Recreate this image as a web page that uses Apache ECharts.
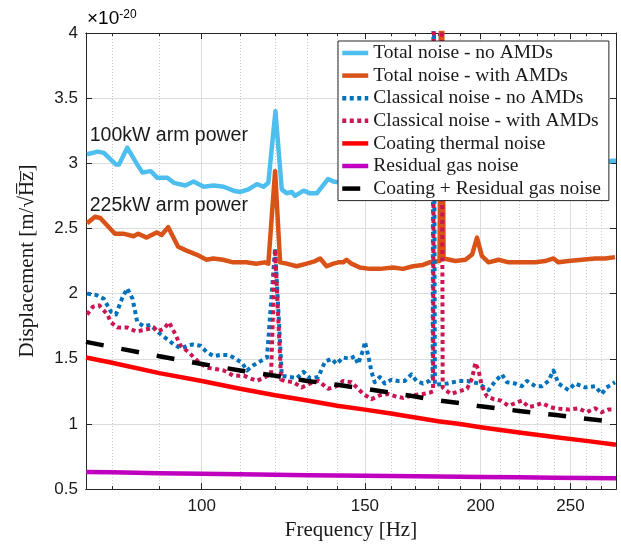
<!DOCTYPE html>
<html style="height: 100%">

<head>
    <meta charset="utf-8">
</head>

<body style="height: 100%; margin: 0">
    <div id="container" style="width: 621px; height: 546px"></div>
    <script type="text/javascript" src="https://cdn.jsdelivr.net/npm/echarts@6.0.0/dist/echarts.min.js"></script>
    <script type="text/javascript">
        // frequencies in Hz, values in units of 1e-20 m/sqrt(Hz)
        var xRange = [75, 280];
        var yRange = [0.5, 4];
        var xMajor = [100, 150, 200, 250];
        var xMinor = [80, 90, 110, 120, 130, 140, 160, 170, 180, 190, 210, 220, 230, 240, 260, 270];

        var fTotNo = [75.2, 77.2, 78.4, 80.8, 81.4, 83.1, 85.2, 86.3, 88.1, 89.5, 91.8, 93.3, 96.0, 98.0, 100.5, 103.0, 105.6, 108.2, 110.1, 112.3, 114.7, 116.6, 118.0, 120.1, 122.0, 123.5, 125.1, 126.1, 128.8, 130.9, 133.1, 134.8, 136.9, 138.7, 145, 155, 165, 175, 185, 195, 205, 215, 230, 245, 260, 270, 277.2, 280];
        var vTotNo = [3.07, 3.09, 3.08, 2.99, 2.99, 3.12, 2.99, 2.93, 2.94, 2.89, 2.89, 2.85, 2.83, 2.86, 2.82, 2.83, 2.82, 2.79, 2.78, 2.80, 2.84, 2.82, 2.85, 3.40, 2.80, 2.77, 2.78, 2.75, 2.79, 2.77, 2.77, 2.82, 2.88, 2.86, 2.84, 2.86, 2.88, 2.90, 2.92, 2.92, 2.95, 2.95, 2.97, 2.99, 3.00, 3.00, 3.02, 3.02];

        var fTotAmd = [75.2, 76.7, 77.7, 80.6, 82.3, 84.4, 85.4, 87.2, 89.4, 90.5, 92.0, 94.3, 96.3, 98.7, 101.2, 102.9, 105.4, 108.1, 111.7, 114.5, 116.9, 118.0, 120.0, 121.5, 123.5, 126.6, 129.8, 132.6, 134.2, 136.4, 138.7, 140.4, 142.1, 143.3, 145.1, 148.1, 151.8, 155.7, 160.9, 164.9, 169.0, 173.3, 176.2, 180.6, 181.5, 182.4, 183.3, 187.9, 192.6, 195.8, 198.2, 200.6, 204.0, 209.1, 214.4, 221.6, 229.1, 234.8, 239.7, 242.7, 248.8, 257.1, 265.8, 272.5, 279.3];
        var vTotAmd = [2.54, 2.59, 2.58, 2.46, 2.46, 2.44, 2.46, 2.43, 2.47, 2.45, 2.51, 2.36, 2.33, 2.30, 2.26, 2.27, 2.26, 2.24, 2.24, 2.23, 2.24, 2.23, 2.94, 2.24, 2.23, 2.21, 2.23, 2.25, 2.27, 2.21, 2.23, 2.24, 2.24, 2.26, 2.23, 2.20, 2.19, 2.19, 2.20, 2.19, 2.21, 2.22, 2.24, 2.25, 5.0, 2.27, 2.26, 2.25, 2.26, 2.30, 2.43, 2.29, 2.24, 2.26, 2.24, 2.24, 2.24, 2.25, 2.27, 2.24, 2.25, 2.26, 2.27, 2.27, 2.28];

        var fClNo = [75.2, 76.9, 78.4, 79.8, 80.8, 82.1, 83.1, 84.2, 85.2, 86.6, 88.1, 89.5, 91.0, 93.3, 94.9, 96.5, 97.7, 99.7, 101.3, 103.0, 104.7, 106.9, 108.2, 110.5, 111.9, 113.7, 115.6, 117.6, 120.0, 122.0, 124.6, 126.6, 128.8, 130.9, 133.6, 135.9, 138.1, 139.8, 142.1, 144.5, 146.3, 147.5, 149.4, 150.0, 151.2, 152.5, 153.7, 155.7, 157.6, 160.3, 162.9, 165.6, 168.4, 170.5, 173.3, 176.2, 177.5, 178.0, 178.5, 184.1, 189.4, 193.4, 199.0, 204.0, 207.5, 210.9, 213.5, 218.0, 221.6, 224.4, 229.1, 232.9, 236.7, 239.7, 242.7, 248.8, 252.9, 259.3, 265.8, 270.2, 273.5, 279.3];
        var vClNo = [2.00, 1.99, 1.96, 1.86, 1.84, 1.97, 2.04, 1.96, 1.78, 1.75, 1.76, 1.71, 1.67, 1.61, 1.58, 1.60, 1.61, 1.60, 1.55, 1.52, 1.53, 1.53, 1.51, 1.47, 1.41, 1.45, 1.48, 1.51, 2.35, 1.37, 1.36, 1.35, 1.40, 1.35, 1.36, 1.48, 1.50, 1.46, 1.51, 1.50, 1.52, 1.46, 1.57, 1.63, 1.53, 1.40, 1.32, 1.36, 1.31, 1.34, 1.33, 1.33, 1.38, 1.33, 1.31, 1.33, 1.35, 5.0, 1.30, 1.31, 1.33, 1.33, 1.31, 1.26, 1.33, 1.38, 1.32, 1.31, 1.29, 1.33, 1.29, 1.29, 1.33, 1.41, 1.31, 1.26, 1.31, 1.28, 1.29, 1.23, 1.28, 1.32];

        var fClAmd = [75.2, 76.3, 77.5, 79.1, 79.8, 81.1, 83.1, 84.9, 86.6, 88.8, 89.5, 91.0, 92.2, 93.3, 94.9, 96.8, 99.7, 101.7, 103.9, 105.6, 108.2, 111.0, 112.8, 114.7, 117.1, 118.8, 120.0, 121.8, 123.0, 125.6, 128.2, 130.9, 133.6, 136.9, 139.8, 142.1, 145.1, 147.5, 149.4, 152.5, 155.7, 158.9, 162.2, 164.9, 169.0, 173.3, 176.2, 177.7, 178.2, 181.5, 182.0, 185.6, 189.4, 193.4, 195.8, 197.4, 199.0, 200.6, 203.2, 206.6, 210.1, 214.4, 218.0, 221.6, 225.3, 229.1, 232.9, 237.7, 240.7, 248.8, 255.0, 260.3, 265.8, 270.2, 274.6, 279.3];
        var vClAmd = [1.84, 1.90, 1.91, 1.84, 1.78, 1.74, 1.74, 1.71, 1.72, 1.74, 1.71, 1.73, 1.78, 1.71, 1.60, 1.55, 1.46, 1.43, 1.42, 1.41, 1.37, 1.37, 1.35, 1.33, 1.36, 1.38, 2.34, 1.34, 1.33, 1.32, 1.28, 1.31, 1.33, 1.27, 1.29, 1.33, 1.32, 1.27, 1.23, 1.19, 1.22, 1.23, 1.21, 1.20, 1.22, 1.23, 1.24, 1.25, 5.0, 5.0, 1.28, 1.23, 1.25, 1.27, 1.35, 1.47, 1.41, 1.29, 1.21, 1.19, 1.18, 1.14, 1.16, 1.18, 1.13, 1.14, 1.16, 1.13, 1.12, 1.11, 1.12, 1.09, 1.12, 1.09, 1.11, 1.11];

        var fSmooth = [75, 80, 90, 100, 110, 120, 130, 140, 150, 160, 170, 180, 190, 200, 220, 240, 260, 280];
        var vCoat = [1.51, 1.47, 1.39, 1.33, 1.27, 1.22, 1.18, 1.14, 1.11, 1.08, 1.05, 1.02, 1.00, 0.975, 0.935, 0.90, 0.87, 0.84];
        var vGas = [0.632, 0.629, 0.622, 0.617, 0.613, 0.610, 0.607, 0.604, 0.602, 0.600, 0.598, 0.596, 0.594, 0.592, 0.590, 0.587, 0.585, 0.583];
        var vCoatGas = [1.63, 1.59, 1.52, 1.46, 1.41, 1.37, 1.33, 1.30, 1.27, 1.24, 1.21, 1.18, 1.16, 1.135, 1.10, 1.07, 1.04, 1.015];

        var notes = [
            { text: '100kW arm power', freq: 75.7, value: 3.215 },
            { text: '225kW arm power', freq: 75.7, value: 2.672 }
        ];

        var axisColor = '#262626';
        var sans = 'Liberation Sans';
        var serif = 'Liberation Serif';

        function lg(v) { return Math.log10(v); }
        function pairs(fs, vs) {
            return fs.map(function (f, i) { return [lg(f), vs[i]]; });
        }

        function xAxisCfg(pos, ticks, len, split, labels) {
            var ax = {
                type: 'value', position: pos, min: lg(xRange[0]), max: lg(xRange[1]),
                axisLine: { show: true, onZero: false, lineStyle: { color: axisColor, width: 1 } },
                axisTick: { show: true, inside: true, length: len, customValues: ticks.map(lg), lineStyle: { color: axisColor } },
                axisLabel: { show: false },
                splitLine: split ? { show: true, lineStyle: split } : { show: false }
            };
            if (labels) {
                ax.axisLabel = {
                    show: true, customValues: ticks.map(lg), margin: 9,
                    fontFamily: sans, fontSize: 17, color: '#1a1a1a',
                    formatter: function (v) { return Math.round(Math.pow(10, v)); }
                };
                ax.name = 'Frequency [Hz]';
                ax.nameLocation = 'middle';
                ax.nameGap = 28;
                ax.nameTextStyle = { fontFamily: serif, fontSize: 21, color: '#1a1a1a' };
            }
            return ax;
        }

        function yAxisCfg(pos, labels) {
            var ax = {
                type: 'value', position: pos, min: yRange[0], max: yRange[1], interval: 0.5,
                axisLine: { show: true, onZero: false, lineStyle: { color: axisColor, width: 1 } },
                axisTick: { show: true, inside: true, length: 6, lineStyle: { color: axisColor } },
                axisLabel: { show: false },
                splitLine: { show: false }
            };
            if (labels) {
                ax.axisLabel = { show: true, margin: 8, fontFamily: sans, fontSize: 17, color: '#1a1a1a' };
                ax.splitLine = { show: true, lineStyle: { color: '#dcdcdc', width: 1 } };
                ax.name = 'Displacement [m/\u221AH\u0305z\u0305]';
                ax.nameLocation = 'middle';
                ax.nameGap = 48;
                ax.nameTextStyle = { fontFamily: serif, fontSize: 21, color: '#1a1a1a' };
            }
            return ax;
        }

        function lineSeries(name, data, color, width, dash) {
            return {
                name: name, type: 'line', data: data, symbol: 'none',
                xAxisIndex: 0, yAxisIndex: 0,
                lineStyle: { color: color, width: width, type: dash || 'solid', join: 'round' },
                itemStyle: { color: color }
            };
        }

        var dot = [4, 3.5];
        var sTotNo = lineSeries('Total noise - no AMDs', pairs(fTotNo, vTotNo), '#4DBEEE', 4.5);
        var sTotAmd = lineSeries('Total noise - with AMDs', pairs(fTotAmd, vTotAmd), '#D95319', 4.5);
        var sClNo = lineSeries('Classical noise - no AMDs', pairs(fClNo, vClNo), '#0072BD', 4, dot);
        var sClAmd = lineSeries('Classical noise - with AMDs', pairs(fClAmd, vClAmd), '#CC1650', 4, dot);
        var sCoat = lineSeries('Coating thermal noise', pairs(fSmooth, vCoat), '#FF0000', 4.5);
        var sGas = lineSeries('Residual gas noise', pairs(fSmooth, vGas), '#BF00BF', 4.5);
        var sSum = lineSeries('Coating + Residual gas noise', pairs(fSmooth, vCoatGas), '#000000', 4.5, [18, 18]);

        sTotNo.markPoint = {
            symbol: 'circle', symbolSize: 0, animation: false,
            label: { show: true, position: 'right', distance: 0, fontFamily: sans, fontSize: 19.5, color: '#1a1a1a', formatter: '{b}' },
            data: notes.map(function (n) { return { name: n.text, coord: [lg(n.freq), n.value] }; })
        };

        var series = [sTotNo, sTotAmd, sClNo, sClAmd, sCoat, sGas, sSum];

        var dom = document.getElementById('container');
        var myChart = echarts.init(dom);
        var option = {
            animation: false,
            backgroundColor: '#ffffff',
            grid: { left: 86, top: 33, right: 5, bottom: 49, containLabel: false },
            xAxis: [
                xAxisCfg('bottom', xMajor, 6, { color: '#dcdcdc', width: 1 }, true),
                xAxisCfg('bottom', xMinor, 3, { color: '#cccccc', width: 1, type: [1, 2] }, false),
                xAxisCfg('top', xMajor, 6, null, false),
                xAxisCfg('top', xMinor, 3, null, false)
            ],
            yAxis: [yAxisCfg('left', true), yAxisCfg('right', false)],
            legend: {
                orient: 'vertical', left: 338, top: 41,
                padding: [2, 8, 2, 2], itemGap: 2.6,
                itemWidth: 26, itemHeight: 14,
                backgroundColor: '#ffffff', borderColor: axisColor, borderWidth: 1,
                itemStyle: { opacity: 0 },
                lineStyle: { width: 4.5 },
                selectedMode: false,
                textStyle: { fontFamily: serif, fontSize: 19.5, lineHeight: 20, color: '#1a1a1a' },
                data: series.map(function (s) { return s.name; })
            },
            graphic: [{
                type: 'text', left: 87, top: 9,
                style: {
                    text: '{a|\u00D710}{b|-20}',
                    rich: {
                        a: { fontFamily: sans, fontSize: 19, color: '#1a1a1a', verticalAlign: 'bottom' },
                        b: { fontFamily: sans, fontSize: 12, color: '#1a1a1a', verticalAlign: 'top' }
                    }
                }
            }],
            series: series
        };

        if (option && typeof option === "object") {
            myChart.setOption(option, true);
        }
    </script>
</body>

</html>
